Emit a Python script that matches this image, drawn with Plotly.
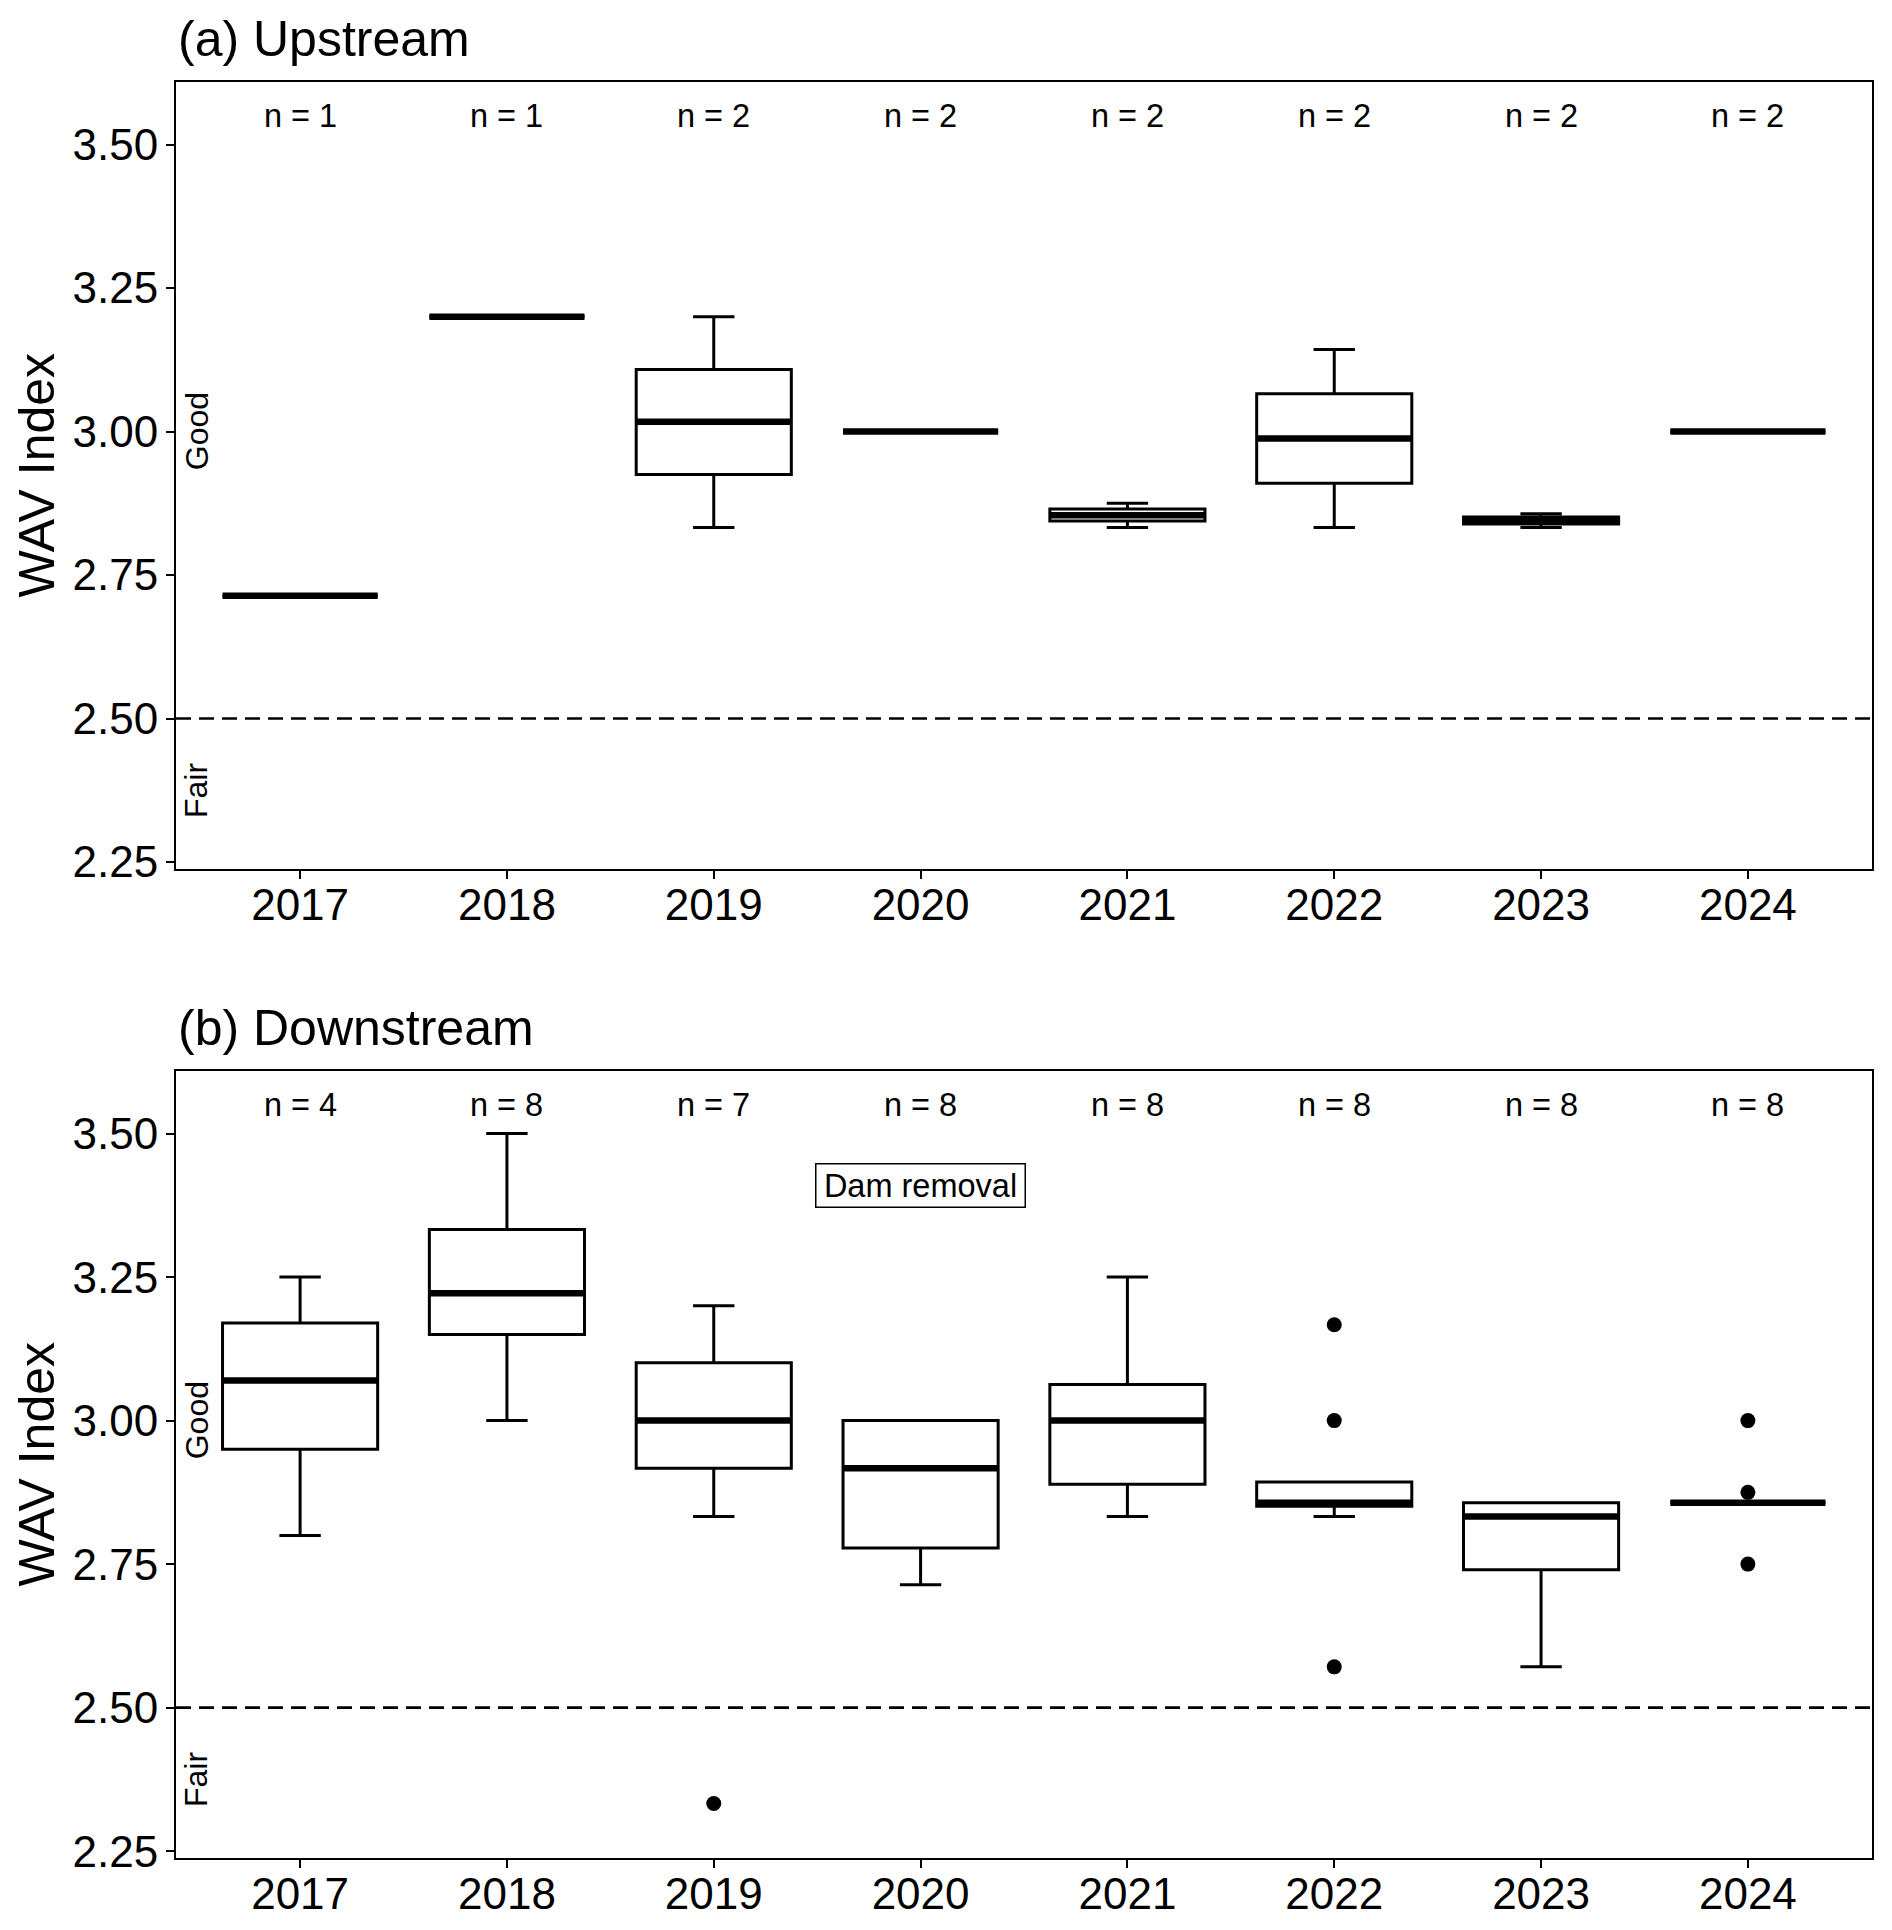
import plotly.graph_objects as go

# ---------------- data ----------------
years = ["2017", "2018", "2019", "2020", "2021", "2022", "2023", "2024"]

# (a) Upstream – box summaries
up_n = [1, 1, 2, 2, 2, 2, 2, 2]
up_lo = [2.714, 3.200, 2.833, 3.000, 2.833, 2.833, 2.833, 3.000]
up_q1 = [2.714, 3.200, 2.925, 3.000, 2.844, 2.910, 2.839, 3.000]
up_med = [2.714, 3.200, 3.017, 3.000, 2.854, 2.988, 2.845, 3.000]
up_q3 = [2.714, 3.200, 3.108, 3.000, 2.865, 3.066, 2.851, 3.000]
up_hi = [2.714, 3.200, 3.200, 3.000, 2.875, 3.143, 2.857, 3.000]

# (b) Downstream – box summaries
down_n = [4, 8, 7, 8, 8, 8, 8, 8]
down_lo = [2.800, 3.000, 2.833, 2.714, 2.833, 2.833, 2.571, 2.857]
down_q1 = [2.950, 3.150, 2.917, 2.778, 2.889, 2.851, 2.740, 2.857]
down_med = [3.070, 3.222, 3.000, 2.917, 3.000, 2.857, 2.833, 2.857]
down_q3 = [3.170, 3.333, 3.101, 3.000, 3.063, 2.893, 2.857, 2.857]
down_hi = [3.250, 3.500, 3.200, 3.000, 3.250, 2.893, 2.857, 2.857]
down_out_year = ["2019", "2022", "2022", "2022", "2024", "2024", "2024"]
down_out_val = [2.333, 3.167, 3.000, 2.571, 3.000, 2.875, 2.750]

threshold = 2.5
n_label_y = 3.55
good_y, fair_y = 3.0, 2.375
dam_year, dam_y = "2020", 3.41
y_ticks = [2.25, 2.50, 2.75, 3.00, 3.25, 3.50]

# ---------------- styling ----------------
FONT = "Liberation Sans, Arial, Helvetica, sans-serif"
OFF = 8  # default page body margin
W, H = 1892 - OFF, 1930 - OFF
ML, MR, MT, MB = 176 - OFF, 20, 82 - OFF, 65
BOX_W = 0.75
CAP_W = 0.2
TOP_DOM = [0.5569, 1.0]
BOT_DOM = [0.0, 0.4431]
YR = [2.238, 3.609]
XR = [-0.6, len(years) - 1 + 0.6]

xi = list(range(len(years)))
pos = {y: i for i, y in enumerate(years)}

fig = go.Figure()


def add_panel(xa, ya, lo, q1, med, q3, hi, out_year=None, out_val=None):
    fig.add_trace(go.Box(
        x=xi, q1=q1, median=med, q3=q3, lowerfence=lo, upperfence=hi,
        width=BOX_W, whiskerwidth=CAP_W / BOX_W,
        line=dict(color="black", width=3), fillcolor="white",
        boxpoints=False, showlegend=False, hoverinfo="skip",
        xaxis=xa, yaxis=ya,
    ))
    mx, my = [], []
    for i, m in zip(xi, med):
        mx += [i - BOX_W / 2, i + BOX_W / 2, None]
        my += [m, m, None]
    fig.add_trace(go.Scatter(
        x=mx, y=my, mode="lines", line=dict(color="black", width=6.5),
        showlegend=False, hoverinfo="skip", xaxis=xa, yaxis=ya,
    ))
    if out_year:
        fig.add_trace(go.Scatter(
            x=[pos[y] for y in out_year], y=out_val, mode="markers",
            marker=dict(color="black", size=15), showlegend=False,
            hoverinfo="skip", xaxis=xa, yaxis=ya,
        ))


add_panel("x", "y", up_lo, up_q1, up_med, up_q3, up_hi)
add_panel("x2", "y2", down_lo, down_q1, down_med, down_q3, down_hi,
          down_out_year, down_out_val)

axis_common = dict(
    showgrid=False, zeroline=False, showline=True, mirror=True,
    linecolor="black", linewidth=2, ticks="outside", ticklen=8,
    tickwidth=2, tickcolor="black",
    tickfont=dict(family=FONT, size=44, color="black"),
)
xcommon = dict(domain=[0, 1], range=XR, tickvals=xi, ticktext=years,
               ticklabelstandoff=-12, **axis_common)
ycommon = dict(range=YR, tickvals=y_ticks, ticktext=[f"{v:.2f}" for v in y_ticks],
               ticklabelstandoff=-1, **axis_common)
fig.update_layout(
    xaxis=dict(anchor="y", **xcommon),
    yaxis=dict(domain=TOP_DOM, anchor="x", **ycommon),
    xaxis2=dict(anchor="y2", **xcommon),
    yaxis2=dict(domain=BOT_DOM, anchor="x2", **ycommon),
    width=W, height=H, margin=dict(l=ML, r=MR, t=MT, b=MB),
    plot_bgcolor="white", paper_bgcolor="white",
    font=dict(family=FONT, color="black"),
)

# threshold lines
for ya in ["y", "y2"]:
    fig.add_shape(type="line", xref=("x" if ya == "y" else "x2") + " domain", x0=0, x1=1,
                  yref=ya, y0=threshold, y1=threshold,
                  line=dict(color="black", width=2.6, dash="15px,8px"))

ann = []
for ya, xa, ns, dom in [("y", "x", up_n, TOP_DOM), ("y2", "x2", down_n, BOT_DOM)]:
    for i, n in zip(xi, ns):
        ann.append(dict(x=i, y=n_label_y, xref=xa, yref=ya, text=f"n = {n}",
                        showarrow=False, font=dict(size=32.5, family=FONT)))
    ann.append(dict(x=-0.5, y=good_y, xref=xa, yref=ya, text="Good", textangle=-90,
                    showarrow=False, font=dict(size=32, family=FONT)))
    ann.append(dict(x=-0.5, y=fair_y, xref=xa, yref=ya, text="Fair", textangle=-90,
                    showarrow=False, font=dict(size=32, family=FONT)))
    ann.append(dict(x=0, y=(dom[0] + dom[1]) / 2, xref="paper", yref="paper",
                    text="WAV Index", textangle=-90, showarrow=False,
                    xanchor="center", yanchor="middle", xshift=-139,
                    font=dict(size=50, family=FONT)))

ann.append(dict(x=0, y=TOP_DOM[1], xref="paper", yref="paper", text="(a) Upstream",
                xanchor="left", yanchor="middle", yshift=43, showarrow=False,
                font=dict(size=50, family=FONT)))
ann.append(dict(x=0, y=BOT_DOM[1], xref="paper", yref="paper", text="(b) Downstream",
                xanchor="left", yanchor="middle", yshift=43, showarrow=False,
                font=dict(size=50, family=FONT)))
ann.append(dict(x=pos[dam_year], y=dam_y, xref="x2", yref="y2", text="Dam removal",
                showarrow=False, font=dict(size=32.5, family=FONT),
                width=204, height=38, align="center",
                bordercolor="black", borderwidth=1.5, borderpad=2, bgcolor="white"))
fig.update_layout(annotations=ann)

fig.write_html("out.html")
